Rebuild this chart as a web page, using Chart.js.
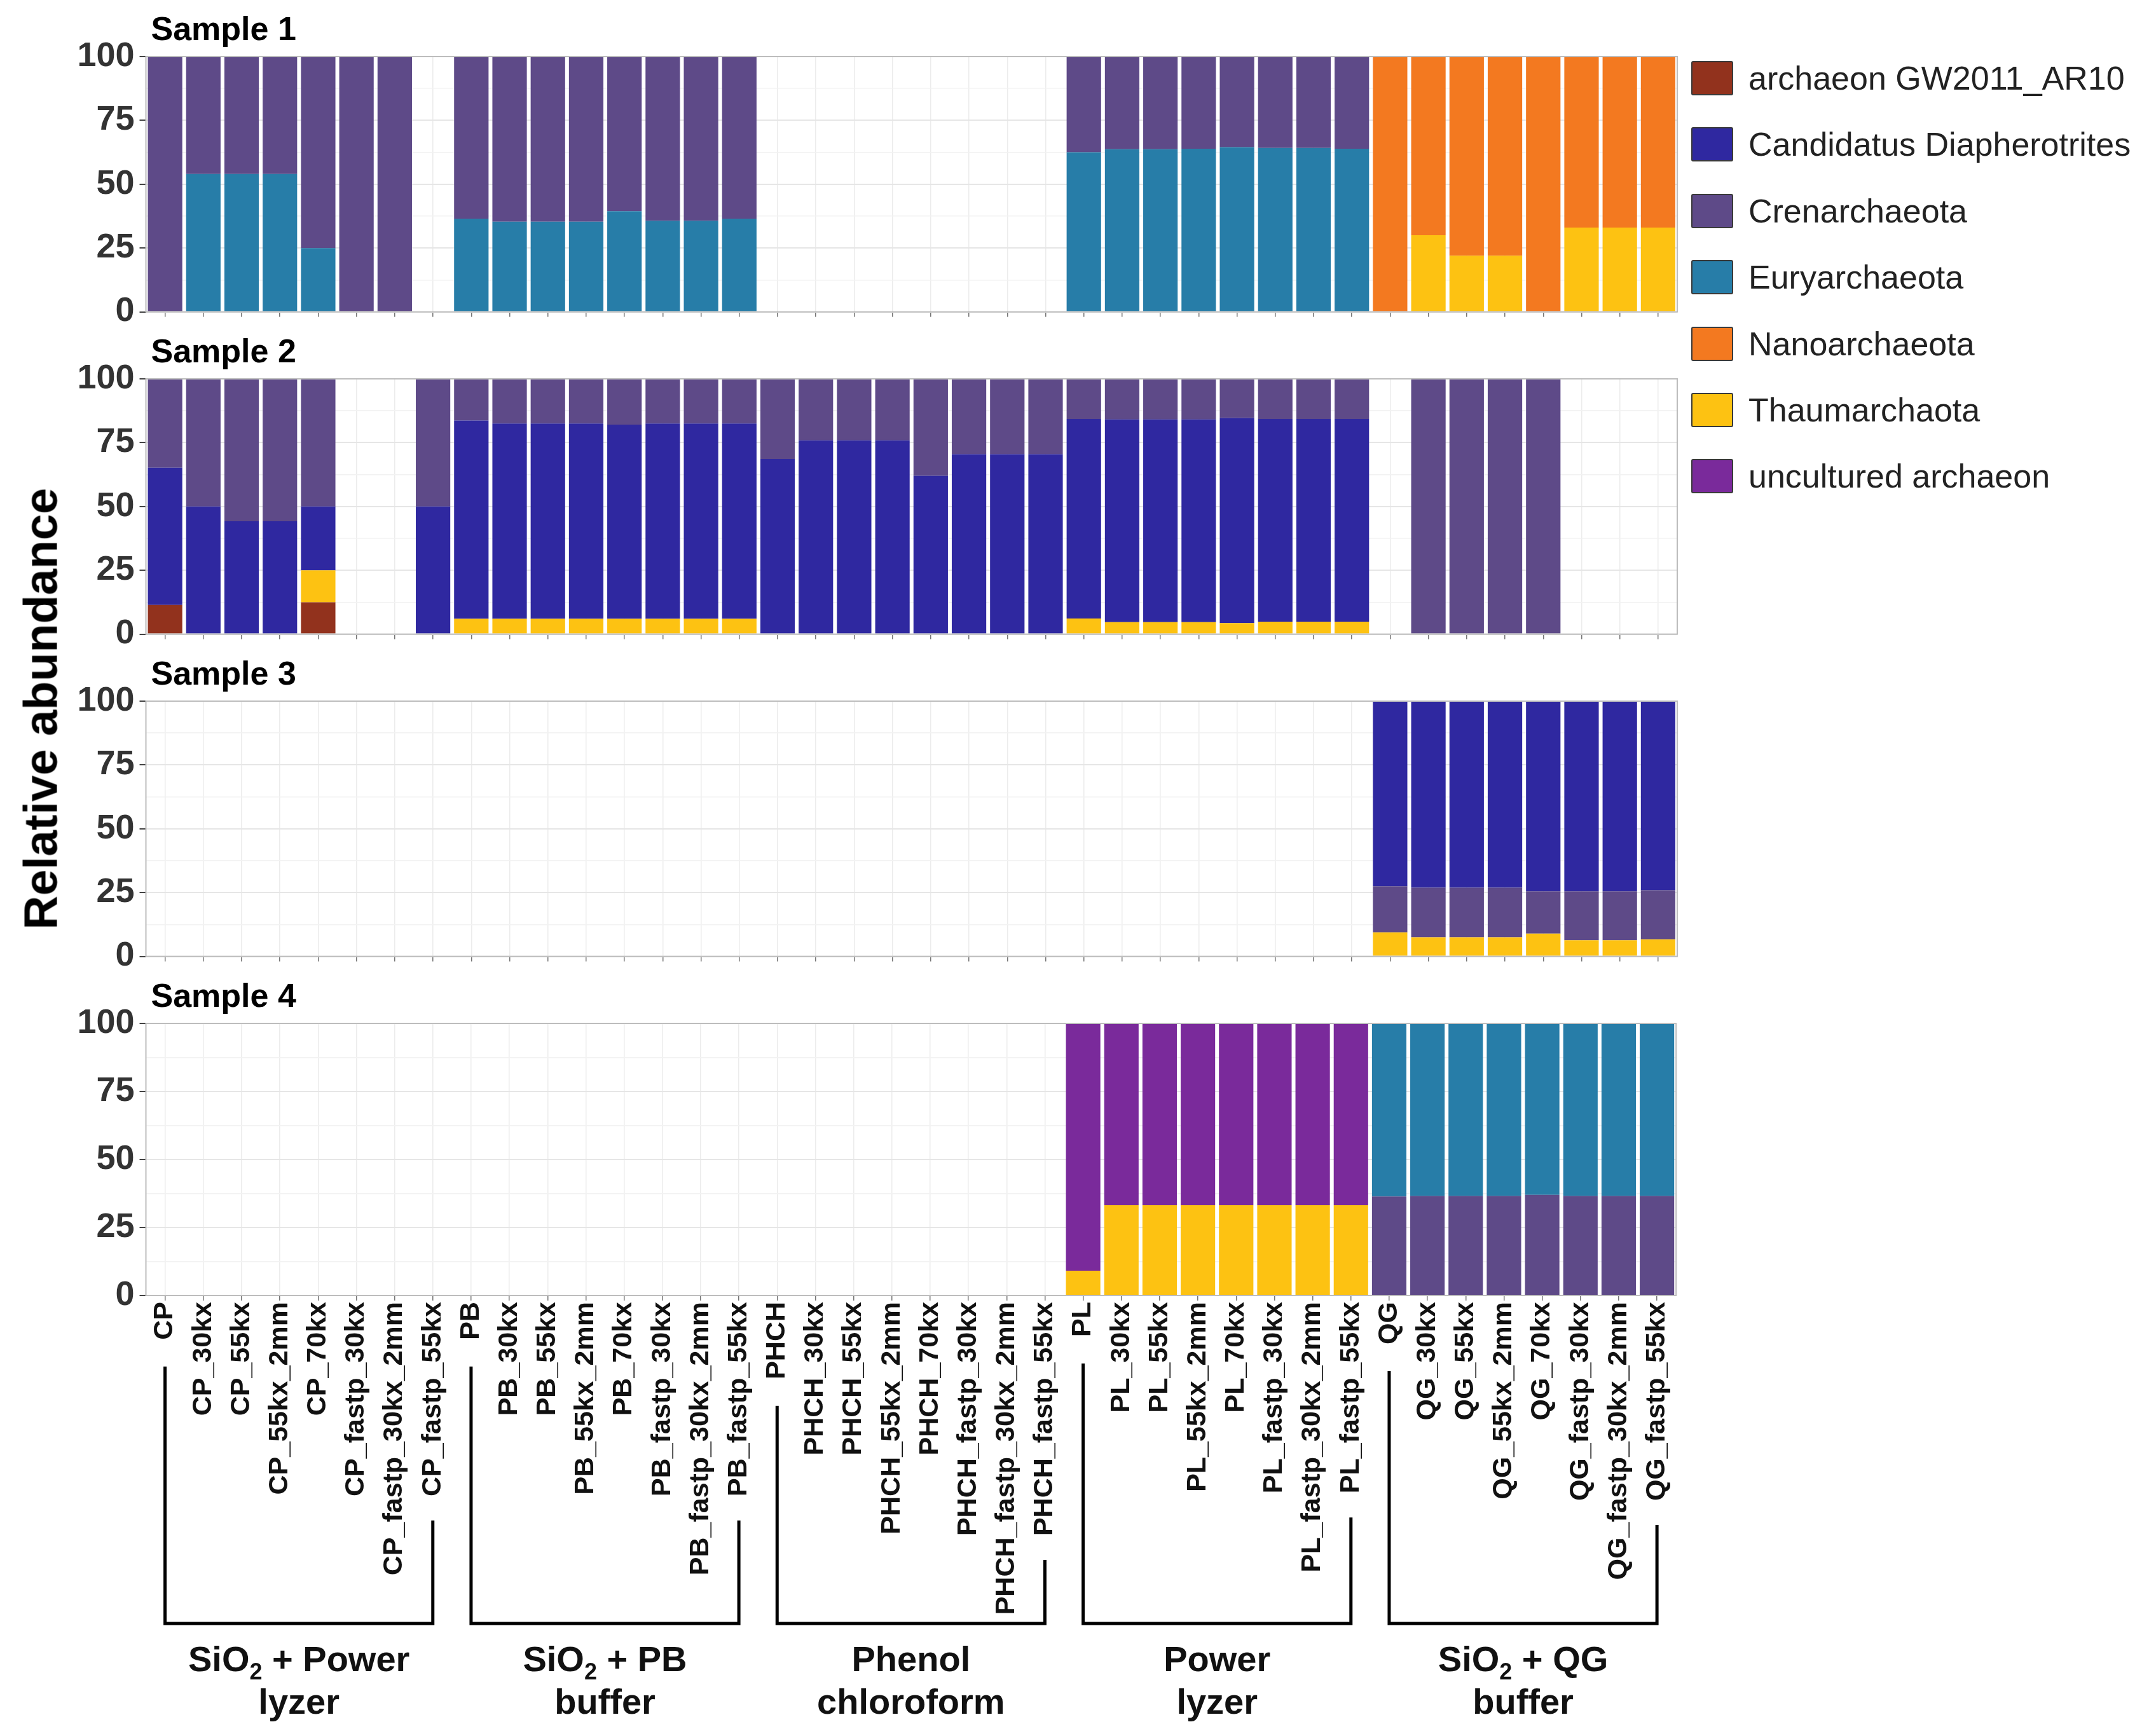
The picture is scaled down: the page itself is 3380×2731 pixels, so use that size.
<!DOCTYPE html>
<html>
<head>
<meta charset="utf-8">
<script src="https://cdn.jsdelivr.net/npm/chart.js@4.4.1/dist/chart.umd.min.js"></script>
<style>
  body { margin: 0; background: #fff; width: 3380px; height: 2731px; position: relative; overflow: hidden;
         font-family: "Liberation Sans", Arial, sans-serif; }
  canvas.panel { position: absolute; left: 0; }
  #ytitle { position: absolute; left: 64px; top: 1115px; transform: translate(-50%, -50%) rotate(-90deg);
            font: bold 74px "Liberation Sans", Arial, sans-serif; color: #000; white-space: nowrap; }
  .lg-row { position: absolute; left: 2660px; height: 52px; display: flex; align-items: center; }
  .lg-sw { width: 62px; height: 50px; border: 2.5px solid #3a3a3a; border-radius: 3px; box-sizing: content-box; }
  .lg-tx { margin-left: 24px; font: 52px "Liberation Sans", Arial, sans-serif; color: #222; white-space: nowrap; }
</style>
</head>
<body>
<canvas id="c1" class="panel" width="2660" height="522" style="top:9px"></canvas>
<canvas id="c2" class="panel" width="2660" height="522" style="top:516px"></canvas>
<canvas id="c3" class="panel" width="2660" height="522" style="top:1023px"></canvas>
<canvas id="c4" class="panel" width="2660" height="1201" style="top:1530px"></canvas>
<div id="ytitle">Relative abundance</div>
<div id="legend"></div>
<script>
// x categories (5 extraction methods x 8 treatments)
const categories = [
  'CP', 'CP_30kx', 'CP_55kx', 'CP_55kx_2mm', 'CP_70kx', 'CP_fastp_30kx', 'CP_fastp_30kx_2mm', 'CP_fastp_55kx',
  'PB', 'PB_30kx', 'PB_55kx', 'PB_55kx_2mm', 'PB_70kx', 'PB_fastp_30kx', 'PB_fastp_30kx_2mm', 'PB_fastp_55kx',
  'PHCH', 'PHCH_30kx', 'PHCH_55kx', 'PHCH_55kx_2mm', 'PHCH_70kx', 'PHCH_fastp_30kx', 'PHCH_fastp_30kx_2mm', 'PHCH_fastp_55kx',
  'PL', 'PL_30kx', 'PL_55kx', 'PL_55kx_2mm', 'PL_70kx', 'PL_fastp_30kx', 'PL_fastp_30kx_2mm', 'PL_fastp_55kx',
  'QG', 'QG_30kx', 'QG_55kx', 'QG_55kx_2mm', 'QG_70kx', 'QG_fastp_30kx', 'QG_fastp_30kx_2mm', 'QG_fastp_55kx'
];

// method groups under the axis: first and last category index, two text lines
const groupRanges = [[0, 7], [8, 15], [16, 23], [24, 31], [32, 39]];
const groupTitles = [
  ['SiO₂ + Power', 'lyzer'],
  ['SiO₂ + PB', 'buffer'],
  ['Phenol', 'chloroform'],
  ['Power', 'lyzer'],
  ['SiO₂ + QG', 'buffer']
];

const taxa = ['archaeon GW2011_AR10', 'Candidatus Diapherotrites', 'Crenarchaeota', 'Euryarchaeota',
              'Nanoarchaeota', 'Thaumarchaota', 'uncultured archaeon'];
const taxaColors = ['#92321d', '#2f28a0', '#5e4a88', '#277da8', '#f37920', '#fdc212', '#7a2a9b'];

const sampleTitles = ['Sample 1', 'Sample 2', 'Sample 3', 'Sample 4'];

// relative abundance (%), one value per category
// Sample 1
const s1Eury = [
  0, 54, 54, 54, 25, 0, 0, 0,
  36.5, 35.3, 35.3, 35.3, 39.4, 35.7, 35.7, 36.5,
  0, 0, 0, 0, 0, 0, 0, 0,
  62.5, 63.7, 63.7, 63.9, 64.5, 64.2, 64.2, 63.9,
  0, 0, 0, 0, 0, 0, 0, 0];
const s1Cren = [
  100, 46, 46, 46, 75, 100, 100, 0,
  63.5, 64.7, 64.7, 64.7, 60.6, 64.3, 64.3, 63.5,
  0, 0, 0, 0, 0, 0, 0, 0,
  37.5, 36.3, 36.3, 36.1, 35.5, 35.8, 35.8, 36.1,
  0, 0, 0, 0, 0, 0, 0, 0];
const s1Thaum = [
  0, 0, 0, 0, 0, 0, 0, 0,
  0, 0, 0, 0, 0, 0, 0, 0,
  0, 0, 0, 0, 0, 0, 0, 0,
  0, 0, 0, 0, 0, 0, 0, 0,
  0, 30, 22, 22, 0, 33, 33, 33];
const s1Nano = [
  0, 0, 0, 0, 0, 0, 0, 0,
  0, 0, 0, 0, 0, 0, 0, 0,
  0, 0, 0, 0, 0, 0, 0, 0,
  0, 0, 0, 0, 0, 0, 0, 0,
  100, 70, 78, 78, 100, 67, 67, 67];

// Sample 2
const s2AR10 = [
  11.4, 0, 0, 0, 12.5, 0, 0, 0,
  0, 0, 0, 0, 0, 0, 0, 0,
  0, 0, 0, 0, 0, 0, 0, 0,
  0, 0, 0, 0, 0, 0, 0, 0,
  0, 0, 0, 0, 0, 0, 0, 0];
const s2Thaum = [
  0, 0, 0, 0, 12.5, 0, 0, 0,
  6, 6, 6, 6, 6, 6, 6, 6,
  0, 0, 0, 0, 0, 0, 0, 0,
  6.1, 4.7, 4.7, 4.7, 4.3, 4.9, 4.9, 4.9,
  0, 0, 0, 0, 0, 0, 0, 0];
const s2Diaph = [
  53.8, 50, 44.2, 44.2, 25, 0, 0, 50,
  77.7, 76.5, 76.5, 76.5, 76.1, 76.5, 76.5, 76.5,
  68.6, 75.9, 75.9, 75.9, 62.0, 70.5, 70.5, 70.5,
  78.2, 79.4, 79.4, 79.4, 80.4, 79.4, 79.4, 79.4,
  0, 0, 0, 0, 0, 0, 0, 0];
const s2Cren = [
  34.8, 50, 55.8, 55.8, 50, 0, 0, 50,
  16.3, 17.5, 17.5, 17.5, 17.9, 17.5, 17.5, 17.5,
  31.4, 24.1, 24.1, 24.1, 38.0, 29.5, 29.5, 29.5,
  15.7, 15.9, 15.9, 15.9, 15.3, 15.7, 15.7, 15.7,
  0, 100, 100, 100, 100, 0, 0, 0];

// Sample 3
const s3Thaum = [
  0, 0, 0, 0, 0, 0, 0, 0,
  0, 0, 0, 0, 0, 0, 0, 0,
  0, 0, 0, 0, 0, 0, 0, 0,
  0, 0, 0, 0, 0, 0, 0, 0,
  9.4, 7.5, 7.5, 7.5, 8.9, 6.3, 6.3, 6.7];
const s3Cren = [
  0, 0, 0, 0, 0, 0, 0, 0,
  0, 0, 0, 0, 0, 0, 0, 0,
  0, 0, 0, 0, 0, 0, 0, 0,
  0, 0, 0, 0, 0, 0, 0, 0,
  18.1, 19.4, 19.4, 19.4, 16.6, 19.2, 19.2, 19.2];
const s3Diaph = [
  0, 0, 0, 0, 0, 0, 0, 0,
  0, 0, 0, 0, 0, 0, 0, 0,
  0, 0, 0, 0, 0, 0, 0, 0,
  0, 0, 0, 0, 0, 0, 0, 0,
  72.5, 73.1, 73.1, 73.1, 74.5, 74.5, 74.5, 74.1];

// Sample 4
const s4Thaum = [
  0, 0, 0, 0, 0, 0, 0, 0,
  0, 0, 0, 0, 0, 0, 0, 0,
  0, 0, 0, 0, 0, 0, 0, 0,
  9.1, 33.2, 33.2, 33.2, 33.2, 33.2, 33.2, 33.2,
  0, 0, 0, 0, 0, 0, 0, 0];
const s4Uncult = [
  0, 0, 0, 0, 0, 0, 0, 0,
  0, 0, 0, 0, 0, 0, 0, 0,
  0, 0, 0, 0, 0, 0, 0, 0,
  90.9, 66.8, 66.8, 66.8, 66.8, 66.8, 66.8, 66.8,
  0, 0, 0, 0, 0, 0, 0, 0];
const s4Cren = [
  0, 0, 0, 0, 0, 0, 0, 0,
  0, 0, 0, 0, 0, 0, 0, 0,
  0, 0, 0, 0, 0, 0, 0, 0,
  0, 0, 0, 0, 0, 0, 0, 0,
  36.4, 36.6, 36.6, 36.6, 37.0, 36.6, 36.6, 36.6];
const s4Eury = [
  0, 0, 0, 0, 0, 0, 0, 0,
  0, 0, 0, 0, 0, 0, 0, 0,
  0, 0, 0, 0, 0, 0, 0, 0,
  0, 0, 0, 0, 0, 0, 0, 0,
  63.6, 63.4, 63.4, 63.4, 63.0, 63.4, 63.4, 63.4];

// stacking order per sample, bottom first
const sample1 = [['Euryarchaeota', s1Eury], ['Crenarchaeota', s1Cren], ['Thaumarchaota', s1Thaum], ['Nanoarchaeota', s1Nano]];
const sample2 = [['archaeon GW2011_AR10', s2AR10], ['Thaumarchaota', s2Thaum], ['Candidatus Diapherotrites', s2Diaph], ['Crenarchaeota', s2Cren]];
const sample3 = [['Thaumarchaota', s3Thaum], ['Crenarchaeota', s3Cren], ['Candidatus Diapherotrites', s3Diaph]];
const sample4 = [['Thaumarchaota', s4Thaum], ['uncultured archaeon', s4Uncult], ['Crenarchaeota', s4Cren], ['Euryarchaeota', s4Eury]];

const FONT = '"Liberation Sans", Arial, sans-serif';

// grey frame around each panel
const panelFrame = {
  id: 'panelFrame',
  afterDraw(chart) {
    const a = chart.chartArea, ctx = chart.ctx;
    ctx.save();
    ctx.strokeStyle = '#bdbdbd';
    ctx.lineWidth = 2;
    ctx.strokeRect(a.left, a.top, a.right - a.left, a.bottom - a.top);
    ctx.restore();
  }
};

// "Sample N" strip title above the panel
const panelTitle = {
  id: 'panelTitle',
  afterDraw(chart, args, opts) {
    const a = chart.chartArea, ctx = chart.ctx;
    ctx.save();
    ctx.font = 'bold 52px ' + FONT;
    ctx.fillStyle = '#000';
    ctx.textBaseline = 'middle';
    ctx.textAlign = 'left';
    ctx.fillText(opts.text, a.left + 8, a.top - 40);
    ctx.restore();
  }
};

// draw "SiO₂" with a real subscript
function drawRich(ctx, text, cx, cy, size) {
  const parts = text.split('₂');
  const main = 'bold ' + size + 'px ' + FONT;
  const sub = 'bold ' + Math.round(size * 0.65) + 'px ' + FONT;
  ctx.font = main;
  const w0 = ctx.measureText(parts[0]).width;
  const w2 = parts.length > 1 ? ctx.measureText(parts[1]).width : 0;
  ctx.font = sub;
  const w1 = parts.length > 1 ? ctx.measureText('2').width : 0;
  let x = cx - (w0 + w1 + w2) / 2;
  ctx.textAlign = 'left';
  ctx.textBaseline = 'middle';
  ctx.font = main;
  ctx.fillText(parts[0], x, cy);
  if (parts.length > 1) {
    x += w0;
    ctx.font = sub;
    ctx.fillText('2', x, cy + size * 0.32);
    x += w1;
    ctx.font = main;
    ctx.fillText(parts[1], x, cy);
  }
}

// brackets joining each method's labels, and the method names
const groupBrackets = {
  id: 'groupBrackets',
  afterDraw(chart, args, opts) {
    if (!opts.show) return;
    const ctx = chart.ctx, xs = chart.scales.x;
    const lineY = xs.top + 516;
    ctx.save();
    ctx.strokeStyle = '#000';
    ctx.lineWidth = 5;
    ctx.fillStyle = '#111';
    groupRanges.forEach(([a, b], g) => {
      ctx.font = 'bold 43px ' + FONT;
      const xa = xs.getPixelForValue(a), xb = xs.getPixelForValue(b);
      const ya = xs.top + 10 + ctx.measureText(categories[a]).width + 42;
      const yb = xs.top + 10 + ctx.measureText(categories[b]).width + 38;
      ctx.beginPath();
      ctx.moveTo(xa, ya);
      ctx.lineTo(xa, lineY);
      ctx.lineTo(xb, lineY);
      ctx.lineTo(xb, yb);
      ctx.stroke();
      const cx = (xa + xb) / 2;
      drawRich(ctx, groupTitles[g][0], cx, xs.top + 576, 56);
      drawRich(ctx, groupTitles[g][1], cx, xs.top + 643, 56);
    });
    ctx.restore();
  }
};

function makePanel(id, title, series, showLabels) {
  const datasets = series.map(([name, values]) => ({
    label: name,
    data: values,
    backgroundColor: taxaColors[taxa.indexOf(name)],
    borderWidth: 0,
    barPercentage: 0.9,
    categoryPercentage: 1.0
  }));

  return new Chart(document.getElementById(id), {
    type: 'bar',
    data: { labels: categories, datasets: datasets },
    options: {
      responsive: false,
      animation: false,
      devicePixelRatio: 1,
      layout: { padding: { top: 80, right: 22, left: 0, bottom: 0 } },
      plugins: {
        legend: { display: false },
        tooltip: { enabled: false },
        panelTitle: { text: title },
        groupBrackets: { show: showLabels }
      },
      scales: {
        x: {
          stacked: true,
          border: { display: false },
          grid: { offset: false, color: '#ececec', lineWidth: 1.5, tickLength: 8, tickColor: '#777' },
          ticks: {
            display: showLabels,
            autoSkip: false,
            maxRotation: 90,
            minRotation: 90,
            padding: 2,
            color: '#111',
            font: { family: FONT, size: 43, weight: 'bold' }
          },
          afterFit: s => { s.height = showLabels ? 693 : 14; }
        },
        y: {
          stacked: true,
          min: 0,
          max: 100,
          border: { display: false },
          grid: {
            color: c => (c.tick && c.tick.value % 25 === 0) ? '#e6e6e6' : '#f2f2f2',
            lineWidth: c => (c.tick && c.tick.value % 25 === 0) ? 2 : 1.5,
            tickLength: 10,
            tickColor: c => (c.tick && c.tick.value % 25 === 0) ? '#444' : 'rgba(0,0,0,0)'
          },
          ticks: {
            stepSize: 12.5,
            autoSkip: false,
            padding: 8,
            color: '#333',
            font: { family: FONT, size: 54, weight: 'bold' },
            callback: v => (v % 25 === 0 ? String(v) : '')
          },
          afterFit: s => { s.width = 229.5; }
        }
      }
    },
    plugins: [panelFrame, panelTitle, groupBrackets]
  });
}

makePanel('c1', sampleTitles[0], sample1, false);
makePanel('c2', sampleTitles[1], sample2, false);
makePanel('c3', sampleTitles[2], sample3, false);
makePanel('c4', sampleTitles[3], sample4, true);

// legend to the right of the panels
const legendBox = document.getElementById('legend');
taxa.forEach((name, i) => {
  const row = document.createElement('div');
  row.className = 'lg-row';
  row.style.top = (123 + 104.4 * i - 26) + 'px';
  const sw = document.createElement('div');
  sw.className = 'lg-sw';
  sw.style.background = taxaColors[i];
  const tx = document.createElement('div');
  tx.className = 'lg-tx';
  tx.textContent = name;
  row.appendChild(sw);
  row.appendChild(tx);
  legendBox.appendChild(row);
});
</script>
</body>
</html>
